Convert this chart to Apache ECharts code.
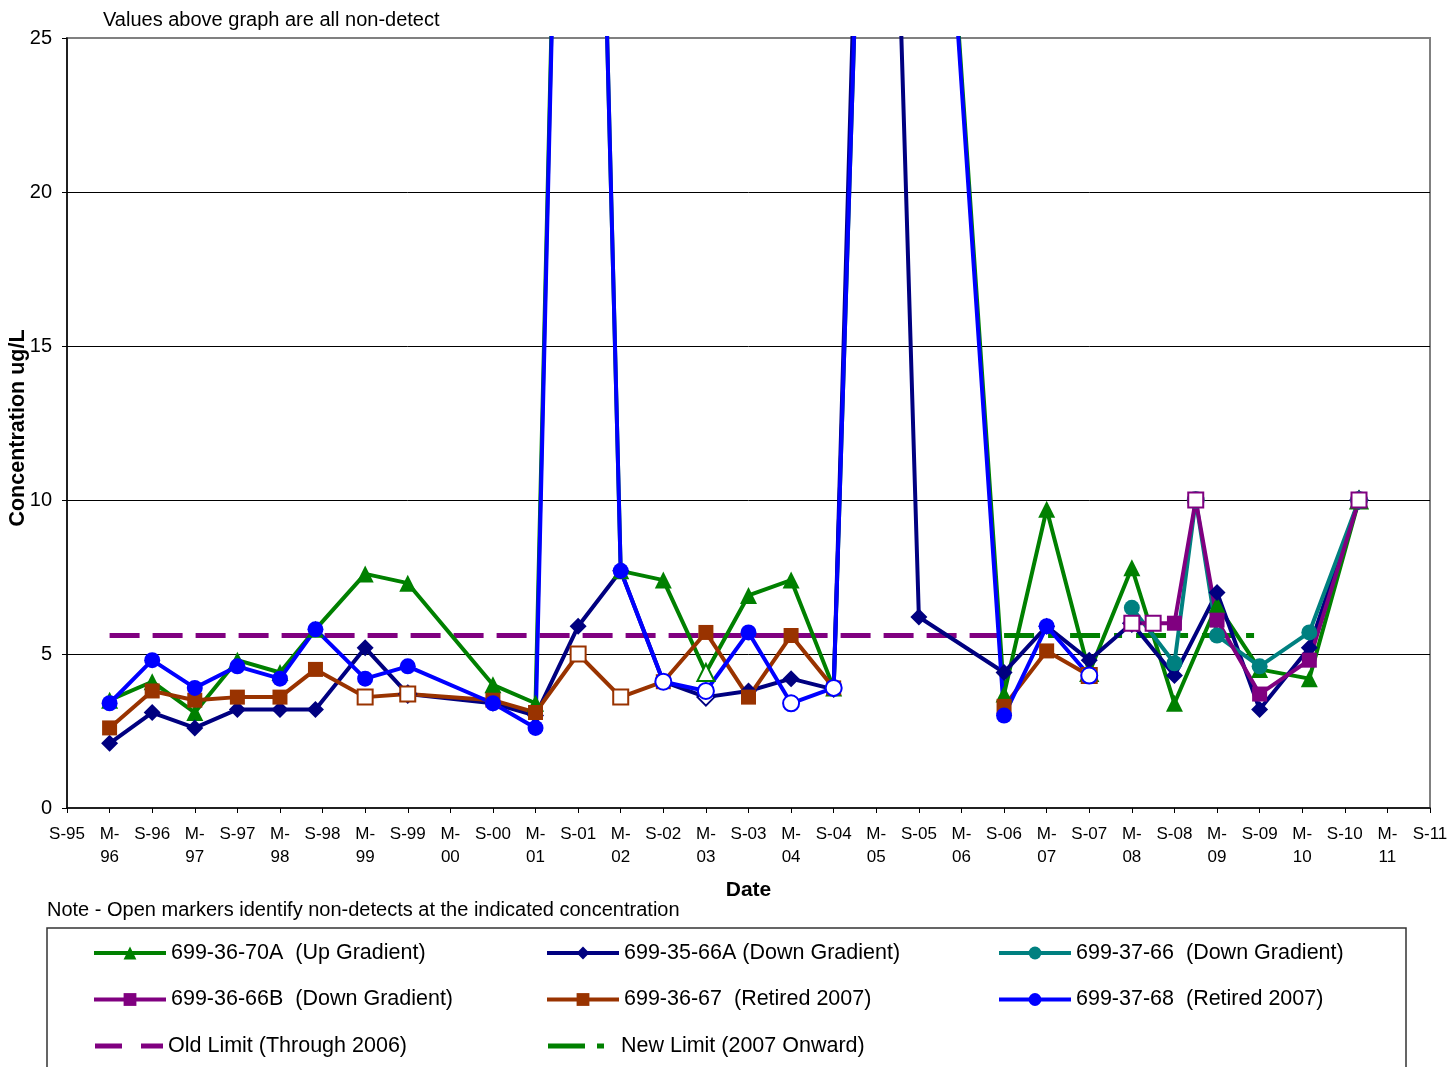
<!DOCTYPE html>
<html>
<head>
<meta charset="utf-8">
<script src="https://cdn.jsdelivr.net/npm/echarts@6/dist/echarts.min.js"></script>
<style>
html,body{margin:0;padding:0;background:#fff;}
#chart{width:1450px;height:1067px;}
</style>
</head>
<body>
<div id="chart"></div>
<script>
// ---------- data ----------
const tickLabels = ['S-95','M-96','S-96','M-97','S-97','M-98','S-98','M-99','S-99','M-00','S-00','M-01','S-01','M-02','S-02','M-03','S-03','M-04','S-04','M-05','S-05','M-06','S-06','M-07','S-07','M-08','S-08','M-09','S-09','M-10','S-10','M-11','S-11'];

const dates70A = ['1996-03','1996-09','1997-03','1997-09','1998-03','1998-08','1999-03','1999-09','2000-09','2001-03','2001-09','2002-03','2002-09','2003-03','2003-09','2004-03','2004-09','2005-03','2005-09','2006-09','2007-03','2007-09','2008-03','2008-09','2009-03','2009-09','2010-04','2010-11'];
const vals70A = [3.5,4.1,3.1,4.8,4.4,5.8,7.6,7.3,4.0,3.4,62,7.7,7.4,4.4,6.9,7.4,3.9,48,44,3.7,9.7,4.4,7.8,3.4,6.6,4.5,4.2,10];
const nd70A   = [0,0,0,0,0,0,0,0,0,0,1,0,0,1,0,0,0,1,1,0,0,1,0,0,0,0,0,1];

const dates3566A = dates70A;
const vals3566A = [2.1,3.1,2.6,3.2,3.2,3.2,5.2,3.7,3.4,3.0,5.9,7.7,4.1,3.6,3.8,4.2,3.85,52,6.2,4.4,5.9,4.8,6.0,4.3,7.0,3.2,5.2,10];
const nd3566A   = [0,0,0,0,0,0,0,1,0,0,0,0,0,1,0,0,0,1,0,0,0,0,1,0,0,0,0,1];

const dates3766 = ['2008-03','2008-09','2008-12','2009-03','2009-09','2010-04','2010-11'];
const vals3766  = [6.5,4.7,10,5.6,4.6,5.7,10];
const nd3766    = [0,0,1,0,0,0,1];

const dates3666B = ['2008-03','2008-06','2008-09','2008-12','2009-03','2009-09','2010-04','2010-11'];
const vals3666B  = [6.0,6.0,6.0,10,6.1,3.7,4.8,10];
const nd3666B    = [1,1,0,1,0,0,0,1];

const dates3667 = ['1996-03','1996-09','1997-03','1997-09','1998-03','1998-08','1999-03','1999-09','2000-09','2001-03','2001-09','2002-03','2002-09','2003-03','2003-09','2004-03','2004-09','2005-09','2006-09','2007-03','2007-09'];
const vals3667  = [2.6,3.8,3.5,3.6,3.6,4.5,3.6,3.7,3.5,3.1,5.0,3.6,4.1,5.7,3.6,5.6,3.9,null,3.3,5.1,4.3];
const nd3667    = [0,0,0,0,0,0,1,1,0,0,1,1,0,0,0,0,0,0,0,0,1];

const dates3768 = ['1996-03','1996-09','1997-03','1997-09','1998-03','1998-08','1999-03','1999-09','2000-09','2001-03','2001-09','2002-03','2002-09','2003-03','2003-09','2004-03','2004-09','2005-03','2005-09','2006-09','2007-03','2007-09'];
const vals3768  = [3.4,4.8,3.9,4.6,4.2,5.8,4.2,4.6,3.4,2.6,62,7.7,4.1,3.8,5.7,3.4,3.9,48,44,3.0,5.9,4.3];
const nd3768    = [0,0,0,0,0,0,0,0,0,0,1,0,1,1,0,1,1,1,1,0,0,1];

const oldLimitDates = ['1996-03','2006-09'];
const oldLimitVals  = [5.6,5.6];
const newLimitDates = ['2006-09','2009-09'];
const newLimitVals  = [5.6,5.6];

// ---------- helpers ----------
function monthIdx(d){ const p = d.split('-'); return (parseInt(p[0])-1995)*12 + (parseInt(p[1])-9); }
function build(dates, vals, nd, color){
  return dates.map((d,i)=>{
    const v = vals[i];
    const item = {value:[monthIdx(d), v == null ? '-' : v]};
    if (nd && nd[i]) item.itemStyle = {color:'#ffffff', borderColor:color, borderWidth:2};
    return item;
  });
}
const FONT = '"Liberation Sans", Arial, sans-serif';

const C = {g:'#008000', db:'#000080', teal:'#008080', pur:'#800080', br:'#993300', bl:'#0000ff'};
const N = {
  g:'699-36-70A  (Up Gradient)', db:'699-35-66A (Down Gradient)', teal:'699-37-66  (Down Gradient)',
  pur:'699-36-66B  (Down Gradient)', br:'699-36-67  (Retired 2007)', bl:'699-37-68  (Retired 2007)',
  old:'Old Limit (Through 2006)', nw:'New Limit (2007 Onward)'
};
function dataSeries(name, color, symbol, size, data){
  return {type:'line', name, data, symbol, symbolSize:size, showAllSymbol:true, clip:true,
    lineStyle:{color, width:4}, itemStyle:{color, borderColor:color, borderWidth:0}, z:3};
}

const chart = echarts.init(document.getElementById('chart'), null, {renderer:'canvas'});
const legendText = {fontFamily:FONT, fontSize:21.5, color:'#000', lineHeight:24};
const legendCommon = {orient:'vertical', padding:0, itemWidth:72, itemHeight:16, itemGap:22.5,
  lineStyle:{width:4}, textStyle:legendText, selectedMode:false};

chart.setOption({
  animation:false,
  backgroundColor:'#fff',
  grid:{left:67, right:20, top:38, bottom:259, show:true, borderColor:'#808080', borderWidth:2,
    containLabel:false, outerBoundsMode:'none'},
  xAxis:{type:'value', min:0, max:192, interval:6,
    name:'Date', nameLocation:'middle', nameGap:72,
    nameTextStyle:{fontFamily:FONT, fontSize:21, fontWeight:'bold', color:'#000'},
    axisLine:{show:true, lineStyle:{color:'#000', width:1.5}},
    axisTick:{show:true, inside:false, length:5, lineStyle:{color:'#000'}},
    splitLine:{show:false},
    axisLabel:{fontFamily:FONT, fontSize:17, color:'#000', margin:15, lineHeight:23,
      formatter:(v)=>{ const s = tickLabels[Math.round(v/6)] || ''; return s.charAt(0)==='M' ? s.replace('-','-\n') : s; }}
  },
  yAxis:{type:'value', min:0, max:25, interval:5,
    axisLine:{show:true, lineStyle:{color:'#000', width:1.5}},
    axisTick:{show:true, inside:false, length:5, lineStyle:{color:'#000'}},
    splitLine:{show:true, showMinLine:false, showMaxLine:false, lineStyle:{color:'#000', width:1}},
    axisLabel:{fontFamily:FONT, fontSize:20, color:'#000', margin:15}
  },
  legend:[
    Object.assign({left:92, top:941, data:[N.g, N.pur]}, legendCommon),
    Object.assign({left:545, top:941, data:[N.db, N.br]}, legendCommon),
    Object.assign({left:997, top:941, data:[N.teal, N.bl]}, legendCommon),
    {left:95, top:1034, padding:0, itemWidth:68, itemHeight:5, selectedMode:false, textStyle:legendText,
      data:[{name:N.old, icon:'path://M0,0H27V5H0Z M46,0H68V5H46Z'}]},
    {left:548, top:1034, padding:0, itemWidth:56, itemHeight:5, selectedMode:false, textStyle:legendText,
      formatter:(n)=>'  '+n,
      data:[{name:N.nw, icon:'path://M0,0H37V5H0Z M49,0H56V5H49Z'}]}
  ],
  graphic:[
    {type:'text', left:103, top:10, style:{text:'Values above graph are all non-detect', font:'20px '+FONT, fill:'#000'}},
    {type:'text', left:47, top:900, style:{text:'Note - Open markers identify non-detects at the indicated concentration', font:'20px '+FONT, fill:'#000'}},
    {type:'text', x:18, y:428, rotation:Math.PI/2,
      style:{text:'Concentration ug/L', font:'bold 21.5px '+FONT, fill:'#000', align:'center', verticalAlign:'middle'}},
    {type:'rect', shape:{x:47, y:928, width:1359, height:160}, style:{fill:'none', stroke:'#333', lineWidth:1.5}, silent:true}
  ],
  series:[
    {type:'line', name:N.old, data:oldLimitDates.map((d,i)=>[monthIdx(d), oldLimitVals[i]]), symbol:'none',
      lineStyle:{color:C.pur, width:5, type:[30,13]}, itemStyle:{color:C.pur}, z:2},
    {type:'line', name:N.nw, data:newLimitDates.map((d,i)=>[monthIdx(d), newLimitVals[i]]), symbol:'none',
      lineStyle:{color:C.g, width:5, type:[30,14,8,14]}, itemStyle:{color:C.g}, z:2},
    dataSeries(N.g, C.g, 'triangle', 17, build(dates70A, vals70A, nd70A, C.g)),
    dataSeries(N.db, C.db, 'diamond', 17, build(dates3566A, vals3566A, nd3566A, C.db)),
    dataSeries(N.teal, C.teal, 'circle', 16, build(dates3766, vals3766, nd3766, C.teal)),
    dataSeries(N.pur, C.pur, 'rect', 15, build(dates3666B, vals3666B, nd3666B, C.pur)),
    dataSeries(N.br, C.br, 'rect', 15, build(dates3667, vals3667, nd3667, C.br)),
    dataSeries(N.bl, C.bl, 'circle', 16, build(dates3768, vals3768, nd3768, C.bl))
  ]
});
</script>
</body>
</html>
